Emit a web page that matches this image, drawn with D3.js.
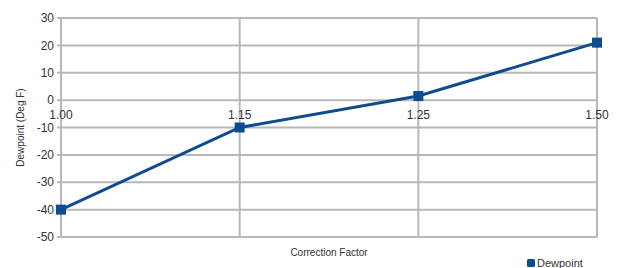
<!DOCTYPE html>
<html>
<head>
<meta charset="utf-8">
<script src="https://cdn.jsdelivr.net/npm/d3@7"></script>
<style>
  body { margin: 0; background: #fff; }
  text { font-family: "Liberation Sans", Arial, sans-serif; fill: #333; }
</style>
</head>
<body>
<div id="graf"></div>
<script>
const factores = ['1.00', '1.15', '1.25', '1.50']
const dewpoint = [-40, -10, 1.5, 21]
const yTicks = [30, 20, 10, 0, -10, -20, -30, -40, -50]

const ancho = 623
const alto = 268
const margins = { left: 61, top: 18, right: 26, bottom: 31 }

const svg = d3.select('#graf')
  .append('svg')
  .attr('width', ancho)
  .attr('height', alto)

const x = d3.scalePoint()
  .domain(factores)
  .range([margins.left, ancho - margins.right])

const y = d3.scaleLinear()
  .domain([-50, 30])
  .range([alto - margins.bottom, margins.top])

// grid horizontal
svg.append('g')
  .selectAll('line')
  .data(yTicks)
  .enter()
  .append('line')
  .attr('x1', margins.left - 4)
  .attr('x2', ancho - margins.right)
  .attr('y1', d => y(d))
  .attr('y2', d => y(d))
  .attr('stroke', '#b8b8b8')
  .attr('stroke-width', 2)

// grid vertical
svg.append('g')
  .selectAll('line')
  .data(factores)
  .enter()
  .append('line')
  .attr('x1', d => x(d))
  .attr('x2', d => x(d))
  .attr('y1', y(30))
  .attr('y2', y(-50))
  .attr('stroke', '#b8b8b8')
  .attr('stroke-width', 2)

// y labels
svg.append('g')
  .selectAll('text')
  .data(yTicks)
  .enter()
  .append('text')
  .attr('x', margins.left - 7)
  .attr('y', d => y(d))
  .attr('dy', '0.35em')
  .attr('text-anchor', 'end')
  .attr('font-size', 12)
  .text(d => d)

// x labels near zero line
svg.append('g')
  .selectAll('text')
  .data(factores)
  .enter()
  .append('text')
  .attr('x', d => x(d))
  .attr('y', y(0) + 19)
  .attr('text-anchor', 'middle')
  .attr('font-size', 12)
  .text(d => d)

const linea = d3.line()
  .x((d, i) => x(factores[i]))
  .y(d => y(d))

svg.append('path')
  .datum(dewpoint)
  .attr('d', linea)
  .attr('fill', 'none')
  .attr('stroke', '#0f4c8f')
  .attr('stroke-width', 3)

svg.append('g')
  .selectAll('rect')
  .data(dewpoint)
  .enter()
  .append('rect')
  .attr('x', (d, i) => x(factores[i]) - 5)
  .attr('y', d => y(d) - 5)
  .attr('width', 10)
  .attr('height', 10)
  .attr('fill', '#0f4c8f')

svg.append('text')
  .attr('transform', `translate(24, ${y(-10)}) rotate(-90)`)
  .attr('text-anchor', 'middle')
  .attr('font-size', 10)
  .text('Dewpoint (Deg F)')

svg.append('text')
  .attr('x', (margins.left + ancho - margins.right) / 2)
  .attr('y', 256)
  .attr('text-anchor', 'middle')
  .attr('font-size', 10)
  .text('Correction Factor')

// leyenda
svg.append('rect')
  .attr('x', 527)
  .attr('y', 259)
  .attr('width', 8)
  .attr('height', 8)
  .attr('rx', 1.5)
  .attr('fill', '#0f4c8f')

svg.append('text')
  .attr('x', 537)
  .attr('y', 267)
  .attr('font-size', 11)
  .text('Dewpoint')
</script>
</body>
</html>
